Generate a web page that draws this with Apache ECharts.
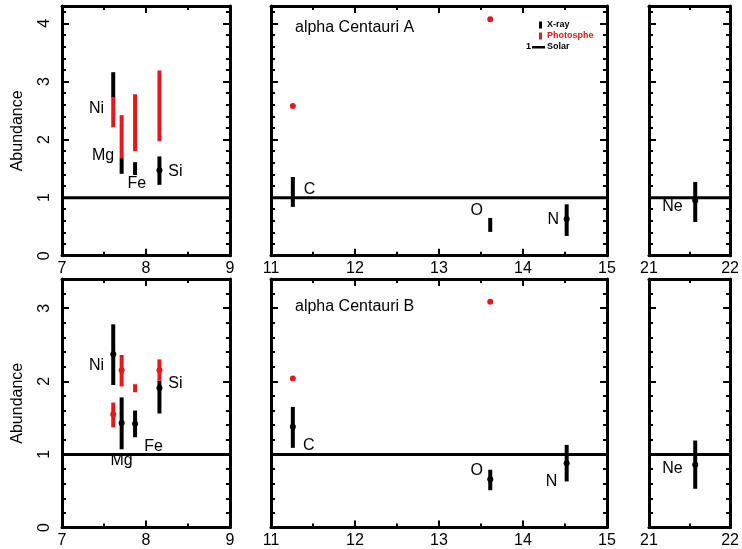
<!DOCTYPE html>
<html><head><meta charset="utf-8">
<script src="https://cdn.jsdelivr.net/npm/echarts@6/dist/echarts.min.js"></script>
<style>html,body{margin:0;padding:0;background:#fff}#c{width:742px;height:549px}</style>
</head><body><div id="c"></div>
<script>
// ---------- data ----------
const elements = ['Ni', 'Mg', 'Fe', 'Si', 'C', 'O', 'N', 'Ne'];
const elemX    = [7.61, 7.71, 7.87, 8.16, 11.26, 13.61, 14.52, 21.57];

// alpha Centauri A : X-ray abundances (error-bar low / high / centre)
const xrayA_lo  = [2.72, 1.41, 1.39, 1.22, 0.84, 0.41, 0.34, 0.58];
const xrayA_hi  = [3.16, 1.68, 1.61, 1.71, 1.355, 0.65, 0.885, 1.27];
const xrayA_mid = [null, null, null, 1.47, null, null, 0.63, 0.95];
// alpha Centauri A : photospheric abundances (ranges and single points)
const photA_lo  = [2.21, 1.68, 1.80, 1.97, null, null, null, null];
const photA_hi  = [2.73, 2.42, 2.78, 3.19, null, null, null, null];
const photA_mid = [null, null, null, null, null, null, null, null];
const photA_pt  = [null, null, null, null, 2.58, 4.07, null, null];

// alpha Centauri B : X-ray abundances
const xrayB_lo  = [1.95, 1.07, 1.235, 1.56, 1.09, 0.51, 0.63, 0.53];
const xrayB_hi  = [2.78, 1.78, 1.60, 2.01, 1.65, 0.79, 1.13, 1.19];
const xrayB_mid = [2.37, 1.43, 1.42, 1.91, 1.38, 0.66, 0.88, 0.86];
// alpha Centauri B : photospheric abundances
const photB_lo  = [1.37, 1.93, 1.85, 2.01, null, null, null, null];
const photB_hi  = [1.71, 2.36, 1.96, 2.30, null, null, null, null];
const photB_mid = [1.55, 2.15, null, 2.15, null, null, null, null];
const photB_pt  = [null, null, null, null, 2.04, 3.09, null, null];

// element label anchors (data units)
const labelA_x = [7.41, 7.49, 7.89, 8.35, 11.46, 13.45, 14.36, 21.29];
const labelA_y = [2.53, 1.73, 1.25, 1.44, 1.13, 0.78, 0.62, 0.84];
const labelB_x = [7.41, 7.71, 8.09, 8.35, 11.45, 13.45, 14.34, 21.29];
const labelB_y = [2.22, 0.91, 1.11, 1.97, 1.12, 0.78, 0.63, 0.81];

const solarLevel = 1;
const xRanges = [[7, 9], [11, 15], [21, 22]];
const yMaxes  = [4.3, 3.4];
const xTickMajor = 1, xTickMinor = 0.5, yTickMajor = 1, yTickMinor = 0.2;
const starTitles = ['alpha Centauri A', 'alpha Centauri B'];
const legendNames = ['X-ray', 'Photosphe', 'Solar'];

// ---------- chart ----------
const FONT = 'Liberation Sans';
const RED = '#e3191c';
const chart = echarts.init(document.getElementById('c'));
const gridTop = [6, 279], gridH = [249.7, 248.5];
const gridLeft = [62, 271, 649], gridW = [168, 336, 83];

function panelOf(x) { return x < 10 ? 0 : (x < 20 ? 1 : 2); }

const grids = [], xAxes = [], yAxes = [], series = [];

function tick(len) { return {show: true, inside: true, length: len, lineStyle: {color: '#000', width: 2}}; }

function errBars(data, color, g) {
  return {
    type: 'custom', xAxisIndex: 4 * g, yAxisIndex: 4 * g, z: 5,
    data: data,
    encode: {x: 0, y: [1, 2]},
    renderItem: function (params, api) {
      const x = api.value(0), lo = api.value(1), hi = api.value(2), mid = api.value(3);
      const p1 = api.coord([x, lo]), p2 = api.coord([x, hi]);
      const ch = [{type: 'line', shape: {x1: p1[0], y1: p1[1], x2: p2[0], y2: p2[1]},
        style: {stroke: color, lineWidth: 4, lineCap: 'butt'}}];
      if (isFinite(mid)) {
        const pc = api.coord([x, mid]);
        ch.push({type: 'circle', shape: {cx: pc[0], cy: pc[1], r: 3}, style: {fill: color}});
      }
      return {type: 'group', children: ch};
    }
  };
}

function textLabels(names, coords, g) {
  return {
    type: 'custom', xAxisIndex: 4 * g, yAxisIndex: 4 * g, z: 7, silent: true,
    data: coords, encode: {x: 0, y: 1},
    renderItem: function (params, api) {
      const p = api.coord([api.value(0), api.value(1)]);
      return {type: 'text', x: p[0], y: p[1],
        style: {text: names[params.dataIndex], fill: '#000', font: '16px "Liberation Sans"', align: 'center', verticalAlign: 'middle'}};
    }
  };
}

const rowsData = [
  {xlo: xrayA_lo, xhi: xrayA_hi, xmid: xrayA_mid, plo: photA_lo, phi: photA_hi, pmid: photA_mid, ppt: photA_pt, lx: labelA_x, ly: labelA_y},
  {xlo: xrayB_lo, xhi: xrayB_hi, xmid: xrayB_mid, plo: photB_lo, phi: photB_hi, pmid: photB_mid, ppt: photB_pt, lx: labelB_x, ly: labelB_y}
];

for (let r = 0; r < 2; r++) {
  for (let c = 0; c < 3; c++) {
    const g = r * 3 + c;
    const [xmin, xmax] = xRanges[c];
    const ymax = yMaxes[r];
    grids.push({left: gridLeft[c], top: gridTop[r], width: gridW[c], height: gridH[r]});
    const lineOn = {show: true, onZero: false, lineStyle: {color: '#000', width: 3}};
    const lineOff = {show: false, onZero: false};
    const noSplit = {show: false};
    xAxes.push(
      {gridIndex: g, type: 'value', position: 'bottom', min: xmin, max: xmax, interval: xTickMajor,
        axisLine: lineOn, axisTick: tick(7), splitLine: noSplit,
        axisLabel: {show: true, color: '#000', fontSize: 16, fontFamily: FONT, margin: 5, showMinLabel: true, showMaxLabel: true}},
      {gridIndex: g, type: 'value', position: 'bottom', min: xmin, max: xmax, interval: xTickMinor,
        axisLine: lineOff, axisTick: tick(4), splitLine: noSplit, axisLabel: {show: false}},
      {gridIndex: g, type: 'value', position: 'top', min: xmin, max: xmax, interval: xTickMajor,
        axisLine: lineOn, axisTick: tick(7), splitLine: noSplit, axisLabel: {show: false}},
      {gridIndex: g, type: 'value', position: 'top', min: xmin, max: xmax, interval: xTickMinor,
        axisLine: lineOff, axisTick: tick(4), splitLine: noSplit, axisLabel: {show: false}}
    );
    yAxes.push(
      {gridIndex: g, type: 'value', position: 'left', min: 0, max: ymax, interval: yTickMajor,
        axisLine: lineOn, axisTick: tick(7), splitLine: noSplit,
        name: c === 0 ? 'Abundance' : '', nameLocation: 'middle', nameRotate: 90, nameGap: 36,
        nameTextStyle: {color: '#000', fontSize: 16, fontFamily: FONT},
        axisLabel: {show: c === 0, color: '#000', fontSize: 16, fontFamily: FONT, rotate: 90, margin: 9,
          formatter: v => (Math.abs(v - Math.round(v)) < 1e-6 ? String(Math.round(v)) : '')}},
      {gridIndex: g, type: 'value', position: 'left', min: 0, max: ymax, interval: yTickMinor,
        axisLine: lineOff, axisTick: tick(4), splitLine: noSplit, axisLabel: {show: false}},
      {gridIndex: g, type: 'value', position: 'right', min: 0, max: ymax, interval: yTickMajor,
        axisLine: lineOn, axisTick: tick(7), splitLine: noSplit, axisLabel: {show: false}},
      {gridIndex: g, type: 'value', position: 'right', min: 0, max: ymax, interval: yTickMinor,
        axisLine: lineOff, axisTick: tick(4), splitLine: noSplit, axisLabel: {show: false}}
    );

    // solar reference line
    series.push({type: 'line', xAxisIndex: 4 * g, yAxisIndex: 4 * g, symbol: 'none', silent: true, z: 2,
      data: [[xmin, solarLevel], [xmax, solarLevel]], lineStyle: {color: '#000', width: 3}});

    const rd = rowsData[r];
    const xr = [], ph = [], pts = [], labCoords = [], labNames = [];
    elements.forEach((el, i) => {
      if (panelOf(elemX[i]) !== c) return;
      if (rd.xlo[i] != null) xr.push([elemX[i], rd.xlo[i], rd.xhi[i], rd.xmid[i] == null ? '-' : rd.xmid[i]]);
      if (rd.plo[i] != null) ph.push([elemX[i], rd.plo[i], rd.phi[i], rd.pmid[i] == null ? '-' : rd.pmid[i]]);
      if (rd.ppt[i] != null) pts.push([elemX[i], rd.ppt[i]]);
      labCoords.push([rd.lx[i], rd.ly[i]]);
      labNames.push(el);
    });
    series.push(errBars(xr, '#000', g));
    if (ph.length) series.push(errBars(ph, RED, g));
    if (pts.length) series.push({type: 'scatter', xAxisIndex: 4 * g, yAxisIndex: 4 * g, symbol: 'circle',
      symbolSize: 6, itemStyle: {color: RED, opacity: 1}, data: pts, z: 6});
    series.push(textLabels(labNames, labCoords, g));
  }
}

const graphics = [
  {type: 'text', x: 295, y: 28, style: {text: starTitles[0], font: '16px "Liberation Sans"', fill: '#000', verticalAlign: 'middle'}},
  {type: 'text', x: 295, y: 307, style: {text: starTitles[1], font: '16px "Liberation Sans"', fill: '#000', verticalAlign: 'middle'}},
  {type: 'rect', shape: {x: 539, y: 21.5, width: 3, height: 7}, style: {fill: '#000'}},
  {type: 'text', x: 547, y: 25, style: {text: legendNames[0], font: 'bold 9px "Liberation Sans"', fill: '#000', verticalAlign: 'middle'}},
  {type: 'rect', shape: {x: 539, y: 32.5, width: 3, height: 7}, style: {fill: RED}},
  {type: 'text', x: 547, y: 36, style: {text: legendNames[1], font: 'bold 9px "Liberation Sans"', fill: RED, verticalAlign: 'middle'}},
  {type: 'text', x: 526, y: 47, style: {text: '1', font: 'bold 9px "Liberation Sans"', fill: '#000', verticalAlign: 'middle'}},
  {type: 'rect', shape: {x: 532, y: 46, width: 13, height: 2.5}, style: {fill: '#000'}},
  {type: 'text', x: 547, y: 47, style: {text: legendNames[2], font: 'bold 9px "Liberation Sans"', fill: '#000', verticalAlign: 'middle'}}
];

chart.setOption({
  animation: false,
  backgroundColor: '#fff',
  textStyle: {fontFamily: FONT},
  grid: grids, xAxis: xAxes, yAxis: yAxes, series: series, graphic: graphics
});
</script></body></html>
